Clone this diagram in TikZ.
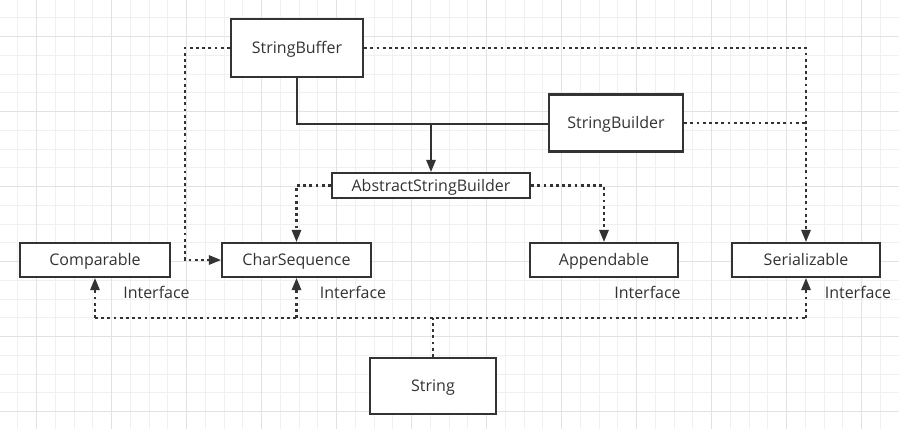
\documentclass[tikz,border=0pt]{standalone}
\usepackage{fontspec}
\setmainfont{Open Sans}
\usetikzlibrary{arrows.meta}
\definecolor{ink}{HTML}{333333}
\definecolor{gridminor}{HTML}{F0F0F0}
\definecolor{gridmajor}{HTML}{E2E2E2}
\tikzset{
  box/.style={draw=ink, line width=2.4pt, fill=white, text=ink, inner sep=0pt,
    text height=11.4pt, text depth=0pt, font=\fontsize{16}{19}\selectfont},
  lbl/.style={text=ink, inner sep=0pt, text height=11.4pt, text depth=0pt,
    font=\fontsize{16}{19}\selectfont},
  solidline/.style={draw=ink, line width=2.4pt},
  dotline/.style={draw=ink, line width=2.8pt, dash pattern=on 2.8pt off 3.4pt},
  tip/.style={-{Triangle[length=12pt,width=10pt,line width=0pt]}},
}
\begin{document}
\begin{tikzpicture}[x=1pt,y=-1pt]
\fill[white] (0,0) rectangle (899,429);
\useasboundingbox (0,0) rectangle (899,429);
% grid
\foreach \i in {0,...,48} {
  \pgfmathsetmacro\gx{-0.8+18.75*\i}
  \draw[gridminor, line width=1pt] (\gx,0) -- (\gx,429);
}
\foreach \i in {0,...,23} {
  \pgfmathsetmacro\gy{-0.8+18.75*\i}
  \draw[gridminor, line width=1pt] (0,\gy) -- (899,\gy);
}
\foreach \i in {0,...,12} {
  \pgfmathsetmacro\gx{-38.3+75*\i}
  \draw[gridmajor, line width=1pt] (\gx,0) -- (\gx,429);
}
\foreach \i in {0,...,6} {
  \pgfmathsetmacro\gy{-38.3+75*\i}
  \draw[gridmajor, line width=1pt] (0,\gy) -- (899,\gy);
}

% nodes
\node[box, minimum width=132pt, minimum height=58pt] (sbuf) at (297,48) {StringBuffer};
\node[box, minimum width=134pt, minimum height=57pt] (sbld) at (616,123) {StringBuilder};
\node[box, minimum width=198pt, minimum height=25pt] (asb) at (431,185.5) {AbstractStringBuilder};
\node[box, minimum width=150pt, minimum height=34pt] (cmp) at (95,260) {Comparable};
\node[box, minimum width=149pt, minimum height=34pt] (cs) at (296.5,260) {CharSequence};
\node[box, minimum width=148pt, minimum height=34pt] (app) at (604,260) {Appendable};
\node[box, minimum width=148pt, minimum height=34pt] (ser) at (806,260) {Serializable};
\node[box, minimum width=126pt, minimum height=56pt] (str) at (433,386) {String};

\node[lbl] (l1) at (156.5,293) {Interface};
\node[lbl] (l2) at (353,293) {Interface};
\node[lbl] (l3) at (647.5,293) {Interface};
\node[lbl] (l4) at (858,293) {Interface};

% junction coordinates
\coordinate (jb) at (431,124);
\coordinate (jl) at (185,48);
\coordinate (jr) at (806,48);
\coordinate (bus) at (433,318);

% solid inheritance
\draw[solidline, line join=miter] (sbuf.south) |- (jb);
\draw[solidline] (sbld.west |- jb) -- (jb);
\draw[solidline, tip] (jb) -- (asb.north);

% StringBuffer dotted
\draw[dotline, tip] (sbuf.west) -- (jl) |- (cs.west);
\draw[dotline, tip] (sbuf.east) -- (jr) -- (ser.north);
\draw[dotline] (sbld.east) -- (sbld.east -| ser.north);

% AbstractStringBuilder dotted
\draw[dotline, tip] (asb.west) -| (cs.north);
\draw[dotline, tip] (asb.east) -| (app.north);

% String dotted
\draw[dotline] (str.north) -- (bus);
\draw[dotline] (cmp.south |- bus) -- (ser.south |- bus);
\draw[dotline, tip] (cmp.south |- bus) -- (cmp.south);
\draw[dotline, tip] (cs.south |- bus) -- (cs.south);
\draw[dotline, tip] (ser.south |- bus) -- (ser.south);
\end{tikzpicture}
\end{document}
